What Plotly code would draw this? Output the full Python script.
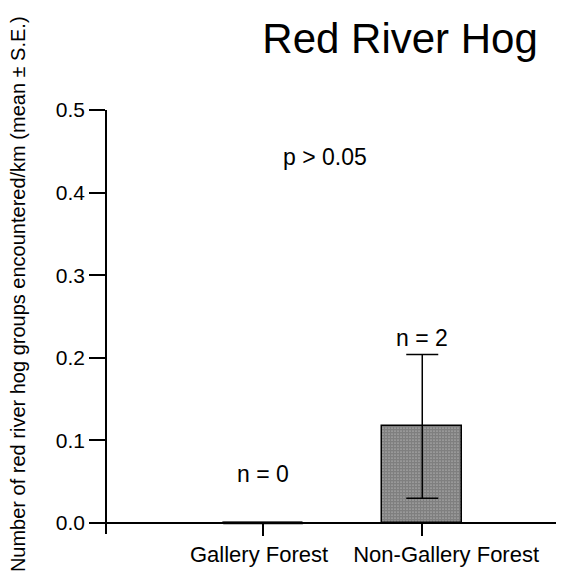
import plotly.graph_objects as go

# Survey summary: red river hog groups per km by forest type
categories = ["Gallery Forest", "Non-Gallery Forest"]
means = [0.0, 0.117]
std_errors = [0.0, 0.087]
sample_labels = ["n = 0", "n = 2"]
p_label = "p > 0.05"
y_title = "Number of red river hog groups encountered/km (mean ± S.E.)"
y_ticks = [0.0, 0.1, 0.2, 0.3, 0.4, 0.5]
y_tick_text = ["0.0", "0.1", "0.2", "0.3", "0.4", "0.5"]

x_pos = list(range(len(categories)))
bar_width = 0.5
# category labels are nudged apart so the long names do not collide
label_offsets = [-0.025, 0.15]
font_main = "Liberation Sans, Arial, sans-serif"

fig = go.Figure()

# Bars with a dense checker fill
fig.add_trace(go.Bar(
    x=x_pos, y=means, width=bar_width,
    marker=dict(
        color="white",
        line=dict(color="black", width=1.5),
        pattern=dict(shape=".", size=3, solidity=0.85, fgcolor="black", bgcolor="white"),
    ),
    showlegend=False, hoverinfo="skip",
))

# Error bars drawn on an invisible scatter at the bar tops
fig.add_trace(go.Scatter(
    x=[x for x, s in zip(x_pos, std_errors) if s > 0],
    y=[m for m, s in zip(means, std_errors) if s > 0],
    mode="markers", marker=dict(size=0.1, color="rgba(0,0,0,0)"),
    error_y=dict(type="data",
                 array=[s for s in std_errors if s > 0],
                 color="black", thickness=1.5, width=16),
    showlegend=False, hoverinfo="skip",
))

# Zero-height bars still show their outline as a flat line
for x, m in zip(x_pos, means):
    if m == 0:
        fig.add_trace(go.Scatter(
            x=[x - bar_width / 2, x + bar_width / 2], y=[m, m],
            mode="lines", line=dict(color="black", width=2.5),
            showlegend=False, hoverinfo="skip",
        ))

# Sample-size labels above each bar
for x, m, s, lab in zip(x_pos, means, std_errors, sample_labels):
    fig.add_annotation(x=x, y=m + s, text=lab, showarrow=False,
                       yanchor="bottom", yshift=34 if s == 0 else 2,
                       font=dict(family=font_main, size=23, color="black"))

fig.add_annotation(x=0.39, y=0.443, text=p_label, showarrow=False,
                   font=dict(family=font_main, size=23, color="black"))

# Rotated y-axis title placed in the left margin
fig.add_annotation(xref="paper", yref="paper", x=-0.198, y=0.566,
                   text=y_title, textangle=-90, showarrow=False,
                   xanchor="center", yanchor="middle",
                   font=dict(family=font_main, size=20, color="black"))

y_min = -0.0133
fig.update_layout(
    width=574, height=578,
    margin=dict(l=107, r=18, t=110, b=44),
    paper_bgcolor="white", plot_bgcolor="white",
    title=dict(text="Red River Hog", x=0.697, xanchor="center",
               y=0.934, yanchor="middle",
               font=dict(family=font_main, size=42, color="black")),
    bargap=0,
    xaxis=dict(
        range=[-0.98, 1.84],
        tickvals=[x + o for x, o in zip(x_pos, label_offsets)],
        ticktext=categories, tickangle=0, ticks="",
        minor=dict(tick0=0, dtick=1, ticks="outside", ticklen=12,
                   tickwidth=1.5, tickcolor="black", showgrid=False),
        showline=True, linecolor="black", linewidth=1.5,
        showgrid=False, zeroline=False, automargin=False,
        anchor="free", position=(-y_min) / (0.5 - y_min),
        ticklabelstandoff=12,
        tickfont=dict(family=font_main, size=22, color="black"),
    ),
    yaxis=dict(
        range=[y_min, 0.5],
        tickvals=y_ticks, ticktext=y_tick_text,
        ticks="outside", ticklen=16, tickwidth=1.5, tickcolor="black",
        showline=True, linecolor="black", linewidth=1.5,
        showgrid=False, zeroline=False, automargin=False,
        tickfont=dict(family=font_main, size=21, color="black"),
    ),
)

fig.write_html("out.html")
